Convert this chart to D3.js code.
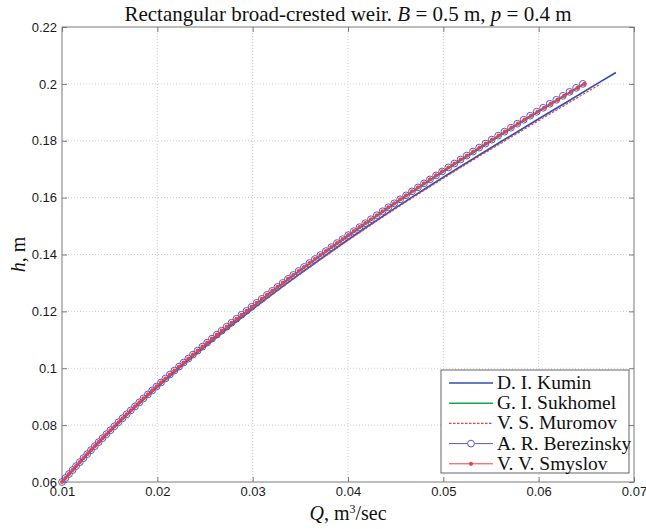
<!DOCTYPE html>
<html>
<head>
<meta charset="utf-8">
<script src="https://cdn.jsdelivr.net/npm/d3@7"></script>
<style>
  html, body { margin: 0; padding: 0; background: #fff; }
  svg { display: block; }
</style>
</head>
<body>
<div id="chart"></div>
<script>
/* Rectangular broad-crested weir, h(Q) for five authors */

// head grid used by the marker series (Berezinsky, Smyslov)
const hGrid = [
  0.0600, 0.0614, 0.0628, 0.0642, 0.0656, 0.0670, 0.0684, 0.0698, 0.0712, 0.0726,
  0.0740, 0.0754, 0.0768, 0.0782, 0.0796, 0.0810, 0.0824, 0.0838, 0.0852, 0.0866,
  0.0880, 0.0894, 0.0908, 0.0922, 0.0936, 0.0950, 0.0964, 0.0978, 0.0992, 0.1006,
  0.1020, 0.1034, 0.1048, 0.1062, 0.1076, 0.1090, 0.1104, 0.1118, 0.1132, 0.1146,
  0.1160, 0.1174, 0.1188, 0.1202, 0.1216, 0.1230, 0.1244, 0.1258, 0.1272, 0.1286,
  0.1300, 0.1314, 0.1328, 0.1342, 0.1356, 0.1370, 0.1384, 0.1398, 0.1412, 0.1426,
  0.1440, 0.1454, 0.1468, 0.1482, 0.1496, 0.1510, 0.1524, 0.1538, 0.1552, 0.1566,
  0.1580, 0.1594, 0.1608, 0.1622, 0.1636, 0.1650, 0.1664, 0.1678, 0.1692, 0.1706,
  0.1720, 0.1734, 0.1748, 0.1762, 0.1776, 0.1790, 0.1804, 0.1818, 0.1832, 0.1846,
  0.1860, 0.1874, 0.1888, 0.1902, 0.1916, 0.1930, 0.1944, 0.1958, 0.1972, 0.1986,
  0.2000
];

const qBerezinsky = [
  0.01000, 0.01036, 0.01073, 0.01111, 0.01148, 0.01187, 0.01225, 0.01264, 0.01304, 0.01344,
  0.01384, 0.01425, 0.01466, 0.01508, 0.01550, 0.01592, 0.01635, 0.01678, 0.01722, 0.01766,
  0.01811, 0.01855, 0.01901, 0.01946, 0.01992, 0.02039, 0.02085, 0.02132, 0.02180, 0.02228,
  0.02276, 0.02325, 0.02374, 0.02423, 0.02473, 0.02523, 0.02573, 0.02624, 0.02675, 0.02727,
  0.02778, 0.02830, 0.02883, 0.02936, 0.02989, 0.03042, 0.03096, 0.03150, 0.03205, 0.03260,
  0.03315, 0.03370, 0.03426, 0.03482, 0.03539, 0.03596, 0.03653, 0.03710, 0.03768, 0.03826,
  0.03884, 0.03943, 0.04002, 0.04061, 0.04121, 0.04181, 0.04241, 0.04302, 0.04363, 0.04424,
  0.04485, 0.04547, 0.04609, 0.04671, 0.04734, 0.04797, 0.04860, 0.04924, 0.04987, 0.05052,
  0.05116, 0.05181, 0.05246, 0.05311, 0.05376, 0.05442, 0.05508, 0.05575, 0.05641, 0.05709,
  0.05776, 0.05843, 0.05911, 0.05979, 0.06047, 0.06116, 0.06185, 0.06254, 0.06324, 0.06393,
  0.06464
];

const qSmyslov = [
  0.01000, 0.01036, 0.01073, 0.01111, 0.01148, 0.01187, 0.01225, 0.01264, 0.01304, 0.01344,
  0.01384, 0.01425, 0.01466, 0.01508, 0.01550, 0.01592, 0.01635, 0.01678, 0.01722, 0.01766,
  0.01811, 0.01855, 0.01901, 0.01946, 0.01992, 0.02039, 0.02085, 0.02132, 0.02180, 0.02228,
  0.02276, 0.02325, 0.02374, 0.02423, 0.02473, 0.02523, 0.02573, 0.02624, 0.02675, 0.02727,
  0.02778, 0.02830, 0.02883, 0.02936, 0.02989, 0.03042, 0.03096, 0.03150, 0.03205, 0.03260,
  0.03315, 0.03370, 0.03426, 0.03482, 0.03539, 0.03596, 0.03653, 0.03710, 0.03768, 0.03826,
  0.03884, 0.03943, 0.04002, 0.04061, 0.04121, 0.04181, 0.04241, 0.04302, 0.04363, 0.04424,
  0.04485, 0.04547, 0.04609, 0.04671, 0.04734, 0.04797, 0.04860, 0.04924, 0.04987, 0.05052,
  0.05117, 0.05182, 0.05248, 0.05313, 0.05379, 0.05445, 0.05512, 0.05579, 0.05646, 0.05714,
  0.05782, 0.05850, 0.05919, 0.05987, 0.06056, 0.06126, 0.06196, 0.06266, 0.06337, 0.06407,
  0.06479
];

// coarser grid for the plain line series
const hLine    = [0.06, 0.07, 0.08, 0.09, 0.10, 0.11, 0.12, 0.13, 0.14, 0.15, 0.16, 0.17, 0.18, 0.19, 0.20];
const hKumin   = [0.06, 0.07, 0.08, 0.09, 0.10, 0.11, 0.12, 0.13, 0.14, 0.15, 0.16, 0.17, 0.18, 0.19, 0.20, 0.204];
const qKumin   = [0.01000, 0.01275, 0.01572, 0.01890, 0.02227, 0.02588, 0.02968, 0.03365,
                  0.03779, 0.04212, 0.04664, 0.05134, 0.05620, 0.06115, 0.06610, 0.06810];
const qSukhomel = [0.01000, 0.01272, 0.01566, 0.01880, 0.02214, 0.02567, 0.02938, 0.03326,
                   0.03731, 0.04152, 0.04589, 0.05041, 0.05508, 0.05989, 0.06484];
const qMuromov = [0.01000, 0.01275, 0.01572, 0.01890, 0.02228, 0.02590, 0.02971, 0.03370,
                  0.03788, 0.04224, 0.04680, 0.05155, 0.05648, 0.06148, 0.06650];

const xTicks = [0.01, 0.02, 0.03, 0.04, 0.05, 0.06, 0.07];
const yTicks = [0.06, 0.08, 0.10, 0.12, 0.14, 0.16, 0.18, 0.20, 0.22];
const fmtTick = v => String(+v.toFixed(2));

const W = 646, H = 529;
const M = { left: 62, right: 634, top: 27, bottom: 482 };
const SERIF = '"Liberation Serif", "Times New Roman", serif';
const SANS  = '"Liberation Sans", Arial, Helvetica, sans-serif';
const AXIS_GRAY = '#7a7a7a';

const x = d3.scaleLinear().domain([0.01, 0.07]).range([M.left, M.right]);
const y = d3.scaleLinear().domain([0.06, 0.22]).range([M.bottom, M.top]);

const svg = d3.select('#chart').append('svg')
  .attr('width', W).attr('height', H)
  .attr('viewBox', `0 0 ${W} ${H}`);

svg.append('rect').attr('width', W).attr('height', H).attr('fill', '#fff');

/* grid */
const grid = svg.append('g')
  .attr('stroke', '#c4c4c4').attr('stroke-width', 0.8).attr('stroke-dasharray', '1,2');
grid.selectAll('.gx').data(xTicks.slice(1, -1)).join('line')
  .attr('x1', d => x(d)).attr('x2', d => x(d))
  .attr('y1', M.top).attr('y2', M.bottom);
grid.selectAll('.gy').data(yTicks.slice(1, -1)).join('line')
  .attr('y1', d => y(d)).attr('y2', d => y(d))
  .attr('x1', M.left).attr('x2', M.right);

/* axes (ticks inward, box) */
function styleAxis(g) {
  g.select('.domain').remove();
  g.selectAll('.tick line').attr('stroke', AXIS_GRAY);
  g.selectAll('.tick text')
    .attr('font-family', SANS).attr('font-size', 13).attr('fill', '#1a1a1a');
}
svg.append('g').attr('transform', `translate(0,${M.bottom})`)
  .call(d3.axisBottom(x).tickValues(xTicks).tickFormat(fmtTick).tickSizeInner(-5).tickSizeOuter(0).tickPadding(5))
  .call(styleAxis);
svg.append('g').attr('transform', `translate(0,${M.top})`)
  .call(d3.axisTop(x).tickValues(xTicks).tickFormat('').tickSizeInner(-5).tickSizeOuter(0))
  .call(styleAxis);
svg.append('g').attr('transform', `translate(${M.left},0)`)
  .call(d3.axisLeft(y).tickValues(yTicks).tickFormat(fmtTick).tickSizeInner(-5).tickSizeOuter(0).tickPadding(5))
  .call(styleAxis);
svg.append('g').attr('transform', `translate(${M.right},0)`)
  .call(d3.axisRight(y).tickValues(yTicks).tickFormat('').tickSizeInner(-5).tickSizeOuter(0))
  .call(styleAxis);

svg.append('rect')
  .attr('x', M.left).attr('y', M.top)
  .attr('width', M.right - M.left).attr('height', M.bottom - M.top)
  .attr('fill', 'none').attr('stroke', AXIS_GRAY).attr('stroke-width', 1);

/* series */
const zip = (hs, qs) => hs.map((h, i) => ({ h, q: qs[i] }));
const line = d3.line().x(d => x(d.q)).y(d => y(d.h)).curve(d3.curveMonotoneX);

const series = [
  { name: 'D. I. Kumin',       data: zip(hKumin, qKumin),      color: '#2f4fb3', width: 1.7 },
  { name: 'G. I. Sukhomel',    data: zip(hLine, qSukhomel),    color: '#15a84a', width: 1.5 },
  { name: 'V. S. Muromov',     data: zip(hLine, qMuromov),     color: '#f23a3a', width: 1.1, dash: '2.5,1.5' },
  { name: 'A. R. Berezinsky',  data: zip(hGrid, qBerezinsky),  color: '#5858d2', width: 1.0, marker: 'circle' },
  { name: 'V. V. Smyslov',     data: zip(hGrid, qSmyslov),     color: '#f04040', width: 1.0, marker: 'dot' },
];

const plot = svg.append('g');
series.forEach(s => {
  plot.append('path')
    .datum(s.data)
    .attr('d', line)
    .attr('fill', 'none')
    .attr('stroke', s.color)
    .attr('stroke-width', s.width)
    .attr('stroke-dasharray', s.dash || null);
  if (s.marker === 'circle') {
    plot.append('g').selectAll('circle').data(s.data).join('circle')
      .attr('cx', d => x(d.q)).attr('cy', d => y(d.h)).attr('r', 3.4)
      .attr('fill', 'none').attr('stroke', s.color).attr('stroke-width', 1);
  } else if (s.marker === 'dot') {
    plot.append('g').selectAll('circle').data(s.data).join('circle')
      .attr('cx', d => x(d.q)).attr('cy', d => y(d.h)).attr('r', 2.1)
      .attr('fill', s.color).attr('stroke', 'none');
  }
});

/* title and axis labels */
const title = svg.append('text')
  .attr('x', (M.left + M.right) / 2).attr('y', 21)
  .attr('text-anchor', 'middle')
  .attr('font-family', SERIF).attr('font-size', 21).attr('fill', '#111');
title.append('tspan').text('Rectangular broad-crested weir. ');
title.append('tspan').attr('font-style', 'italic').text('B');
title.append('tspan').text(' = 0.5 m, ');
title.append('tspan').attr('font-style', 'italic').text('p');
title.append('tspan').text(' = 0.4 m');

const xl = svg.append('text')
  .attr('x', (M.left + M.right) / 2).attr('y', 520)
  .attr('text-anchor', 'middle')
  .attr('font-family', SERIF).attr('font-size', 20).attr('fill', '#111');
xl.append('tspan').attr('font-style', 'italic').text('Q');
xl.append('tspan').text(', m');
xl.append('tspan').attr('font-size', 12).attr('dy', -7).text('3');
xl.append('tspan').attr('dy', 7).text('/sec');

const yl = svg.append('text')
  .attr('transform', `translate(25,${(M.top + M.bottom) / 2}) rotate(-90)`)
  .attr('text-anchor', 'middle')
  .attr('font-family', SERIF).attr('font-size', 20).attr('fill', '#111');
yl.append('tspan').attr('font-style', 'italic').text('h');
yl.append('tspan').text(', m');

/* legend */
const LG = { x: 441, y: 370, w: 188, h: 103, row: 20.2 };
const lg = svg.append('g');
lg.append('rect')
  .attr('x', LG.x).attr('y', LG.y).attr('width', LG.w).attr('height', LG.h)
  .attr('fill', '#fff').attr('stroke', '#555').attr('stroke-width', 0.9);

series.forEach((s, i) => {
  const cy = LG.y + 13 + i * LG.row;
  lg.append('line')
    .attr('x1', LG.x + 8).attr('x2', LG.x + 52)
    .attr('y1', cy).attr('y2', cy)
    .attr('stroke', s.color).attr('stroke-width', s.width)
    .attr('stroke-dasharray', s.dash || null);
  if (s.marker === 'circle') {
    lg.append('circle').attr('cx', LG.x + 30).attr('cy', cy).attr('r', 3.4)
      .attr('fill', '#fff').attr('stroke', s.color).attr('stroke-width', 1);
  } else if (s.marker === 'dot') {
    lg.append('circle').attr('cx', LG.x + 30).attr('cy', cy).attr('r', 2.1)
      .attr('fill', s.color);
  }
  lg.append('text')
    .attr('x', LG.x + 56).attr('y', cy + 6)
    .attr('font-family', SERIF).attr('font-size', 19.5).attr('fill', '#111')
    .text(s.name);
});
</script>
</body>
</html>
